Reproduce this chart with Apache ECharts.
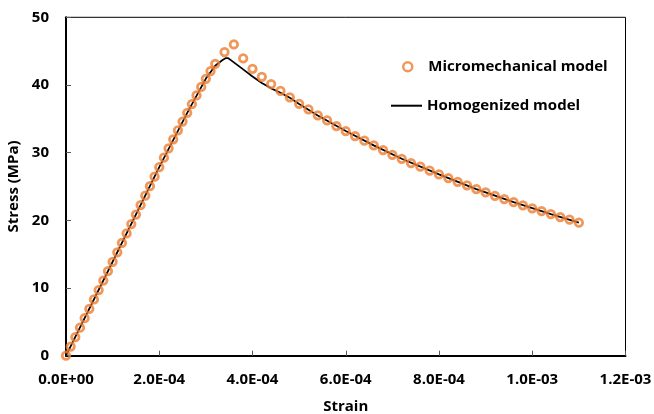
<!DOCTYPE html>
<html>
<head>
<meta charset="utf-8">
<script src="https://cdn.jsdelivr.net/npm/echarts@6/dist/echarts.min.js"></script>
<style>
  html, body { margin: 0; padding: 0; background: #fff; }
  #chart { width: 654px; height: 414px; }
</style>
</head>
<body>
<div id="chart"></div>
<script>
// micromechanical model (markers)
const microStrain = [
  0, 1e-5, 2e-5, 3e-5, 4e-5, 5e-5, 6e-5, 7e-5, 8e-5, 9e-5,
  1.0e-4, 1.1e-4, 1.2e-4, 1.3e-4, 1.4e-4, 1.5e-4, 1.6e-4, 1.7e-4, 1.8e-4, 1.9e-4,
  2.0e-4, 2.1e-4, 2.2e-4, 2.3e-4, 2.4e-4, 2.5e-4, 2.6e-4, 2.7e-4, 2.8e-4, 2.9e-4,
  3.0e-4, 3.1e-4, 3.2e-4, 3.4e-4, 3.6e-4, 3.8e-4, 4.0e-4, 4.2e-4, 4.4e-4, 4.6e-4,
  4.8e-4, 5.0e-4, 5.2e-4, 5.4e-4, 5.6e-4, 5.8e-4, 6.0e-4, 6.2e-4, 6.4e-4, 6.6e-4,
  6.8e-4, 7.0e-4, 7.2e-4, 7.4e-4, 7.6e-4, 7.8e-4, 8.0e-4, 8.2e-4, 8.4e-4, 8.6e-4,
  8.8e-4, 9.0e-4, 9.2e-4, 9.4e-4, 9.6e-4, 9.8e-4, 1.0e-3, 1.02e-3, 1.04e-3, 1.06e-3,
  1.08e-3, 1.1e-3
]
const microStress = [
  0, 1.35, 2.74, 4.14, 5.55, 6.92, 8.31, 9.69, 11.1, 12.5,
  13.88, 15.28, 16.66, 18.06, 19.45, 20.85, 22.25, 23.65, 25.05, 26.45,
  27.85, 29.25, 30.62, 31.98, 33.3, 34.6, 35.88, 37.18, 38.45, 39.72,
  40.92, 42.05, 43.13, 44.86, 45.99, 43.93, 42.39, 41.21, 40.13, 39.14,
  38.17, 37.22, 36.4, 35.51, 34.77, 33.93, 33.19, 32.45, 31.76, 31.08,
  30.38, 29.69, 29.1, 28.46, 27.92, 27.33, 26.79, 26.25, 25.7, 25.17,
  24.62, 24.14, 23.63, 23.15, 22.7, 22.22, 21.77, 21.37, 20.93, 20.49,
  20.09, 19.65
]

// homogenized model (line)
const homoStrain = [
  0, 1.0e-4, 2.0e-4, 2.6e-4, 3.0e-4, 3.2e-4, 3.35e-4, 3.42e-4, 3.48e-4, 3.55e-4,
  3.8e-4, 4.0e-4, 4.2e-4, 4.4e-4, 4.6e-4, 4.8e-4, 5.0e-4, 5.4e-4, 6.0e-4, 6.6e-4,
  7.2e-4, 8.0e-4, 8.8e-4, 9.6e-4, 1.04e-3, 1.1e-3
]
const homoStress = [
  0, 13.88, 27.85, 35.88, 40.95, 42.85, 43.65, 43.95, 43.95, 43.6,
  42.3, 41.25, 40.3, 39.5, 38.85, 38.1, 37.2, 35.5, 33.19, 31.08,
  29.1, 26.79, 24.62, 22.7, 20.93, 19.65
]

const xTickLabels = ['0.0E+00', '2.0E-04', '4.0E-04', '6.0E-04', '8.0E-04', '1.0E-03', '1.2E-03']
const yTickLabels = ['0', '10', '20', '30', '40', '50']

const FONT = 'Open Sans'
const ORANGE = '#ED7D31'

const chart = echarts.init(document.getElementById('chart'), null, { renderer: 'canvas' })

const legendText = { fontFamily: FONT, fontWeight: 'bold', fontSize: 15, color: '#000', lineHeight: 18 }

const option = {
  animation: false,
  backgroundColor: '#fff',
  grid: {
    left: 66,
    right: 28.5,
    top: 17.3,
    bottom: 58.3,
    outerBoundsMode: 'none',
    containLabel: false,
    show: true,
    borderColor: '#000',
    borderWidth: 1,
  },
  xAxis: {
    type: 'value',
    min: 0,
    max: 1.2e-3,
    interval: 2e-4,
    name: 'Strain',
    nameLocation: 'middle',
    nameGap: 44,
    nameTextStyle: { fontFamily: FONT, fontWeight: 'bold', fontSize: 15, color: '#000' },
    axisLine: { show: true, onZero: false, lineStyle: { color: '#000', width: 2 } },
    axisTick: { show: true, inside: true, length: 5, lineStyle: { color: '#595959', width: 1 } },
    axisLabel: {
      margin: 17,
      fontFamily: FONT,
      fontWeight: 'bold',
      fontSize: 15,
      color: '#000',
      formatter: (v) => xTickLabels[Math.round(v / 2e-4)],
    },
    splitLine: { show: false },
  },
  yAxis: {
    type: 'value',
    min: 0,
    max: 50,
    interval: 10,
    name: 'Stress (MPa)',
    nameLocation: 'middle',
    nameGap: 37,
    nameTextStyle: { fontFamily: FONT, fontWeight: 'bold', fontSize: 15, color: '#000' },
    axisLine: { show: true, onZero: false, lineStyle: { color: '#000', width: 2 } },
    axisTick: { show: true, inside: true, length: 5, lineStyle: { color: '#595959', width: 1 } },
    axisLabel: {
      margin: 17,
      fontFamily: FONT,
      fontWeight: 'bold',
      fontSize: 15,
      color: '#000',
      formatter: (v) => yTickLabels[Math.round(v / 10)],
    },
    splitLine: { show: false },
  },
  legend: [
    {
      data: [{
        name: 'Micromechanical model',
        icon: 'circle',
        itemStyle: { color: 'rgba(255,255,255,0)', borderColor: ORANGE, borderWidth: 2.5 },
      }],
      left: 402,
      top: 57.7,
      padding: 0,
      itemWidth: 31,
      itemHeight: 9,
      textStyle: legendText,
    },
    {
      data: [{
        name: 'Homogenized model',
        icon: 'rect',
        itemStyle: { color: '#000', borderWidth: 0 },
      }],
      left: 391,
      top: 96.7,
      padding: 0,
      itemWidth: 31,
      itemHeight: 2,
      textStyle: legendText,
    },
  ],
  series: [
    {
      name: 'Homogenized model',
      type: 'line',
      data: homoStrain.map((x, i) => [x, homoStress[i]]),
      symbol: 'none',
      lineStyle: { color: '#000', width: 1.75 },
      itemStyle: { color: '#000' },
      z: 2,
    },
    {
      name: 'Micromechanical model',
      type: 'scatter',
      data: microStrain.map((x, i) => [x, microStress[i]]),
      symbol: 'circle',
      symbolSize: 7.5,
      itemStyle: { color: 'rgba(255,255,255,0)', borderColor: ORANGE, borderWidth: 2.75 },
      z: 3,
    },
  ],
}

chart.setOption(option)
</script>
</body>
</html>
